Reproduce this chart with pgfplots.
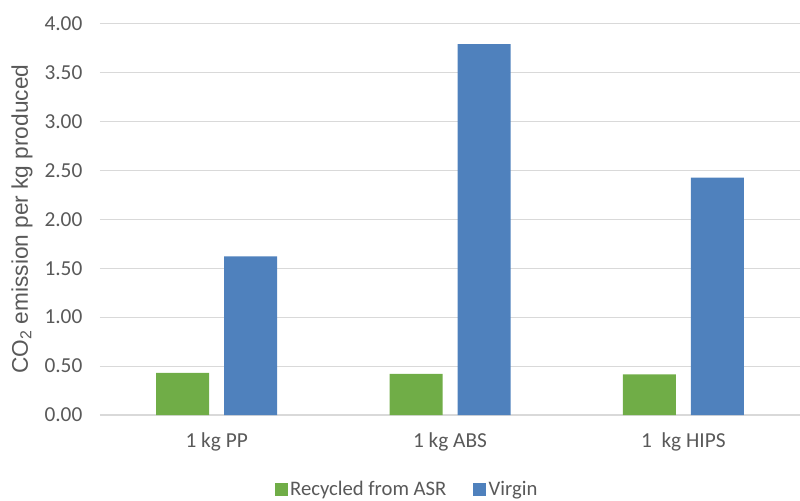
\documentclass[border=0pt]{standalone}
\usepackage{fontspec}
\setmainfont{Carlito}
\newfontfamily\arial{Liberation Sans}
\usepackage{pgfplots}
\pgfplotsset{compat=1.18}
\definecolor{cgreen}{HTML}{70AD47}
\definecolor{cblue}{HTML}{4F81BD}
\definecolor{ctext}{HTML}{595959}
\definecolor{cgrid}{HTML}{D9D9D9}
\begin{document}
\begin{tikzpicture}[x=1pt,y=1pt]
\useasboundingbox (-75pt,-63.75pt) rectangle (525pt,311.25pt);
\begin{axis}[
  at={(0,0)}, anchor=south west,
  scale only axis,
  width=525pt, height=293.6pt,
  ymin=0, ymax=4,
  xmin=-0.5, xmax=2.5,
  ytick={0,0.5,...,4},
  xtick={0,1,2},
  xticklabels={1 kg PP,1 kg ABS,1\ \ kg HIPS},
  axis x line*=bottom,
  axis y line*=left,
  x axis line style={draw=cgrid, line width=0.8pt, -},
  y axis line style={draw=none},
  ymajorgrids,
  grid style={draw=cgrid, line width=0.8pt},
  major tick length=0pt,
  tick style={draw=none},
  ybar,
  bar width=39.75pt,
  ticklabel style={font=\fontsize{16}{18}\selectfont, text=ctext},
  yticklabel style={xshift=-9.7pt, /pgf/number format/fixed, /pgf/number format/fixed zerofill, /pgf/number format/precision=2, /pgf/number format/assume math mode=true},
  xticklabel style={yshift=-10pt},
  ylabel={\arial CO\textsubscript{2} emission per kg produced},
  every axis y label/.style={at={(axis description cs:-0.1114,0.5)}, rotate=90, anchor=center, font=\fontsize{17}{19}\selectfont, text=ctext},
  legend style={at={(0.439,-0.19)}, anchor=center, draw=none, legend columns=2,
    font=\fontsize{15.5}{17}\selectfont, text=ctext,
    /tikz/every even column/.append style={column sep=18pt}},
  legend image code/.code={\fill[#1] (0pt,-4.9pt) rectangle (9.75pt,4.9pt);},
]
\addplot[fill=cgreen, draw=none, bar shift=-25.5pt] coordinates {(0,0.43) (1,0.42) (2,0.415)};
\addplot[fill=cblue, draw=none, bar shift=25.5pt] coordinates {(0,1.62) (1,3.79) (2,2.425)};
\legend{Recycled from ASR, Virgin}
\end{axis}
\end{tikzpicture}
\end{document}
